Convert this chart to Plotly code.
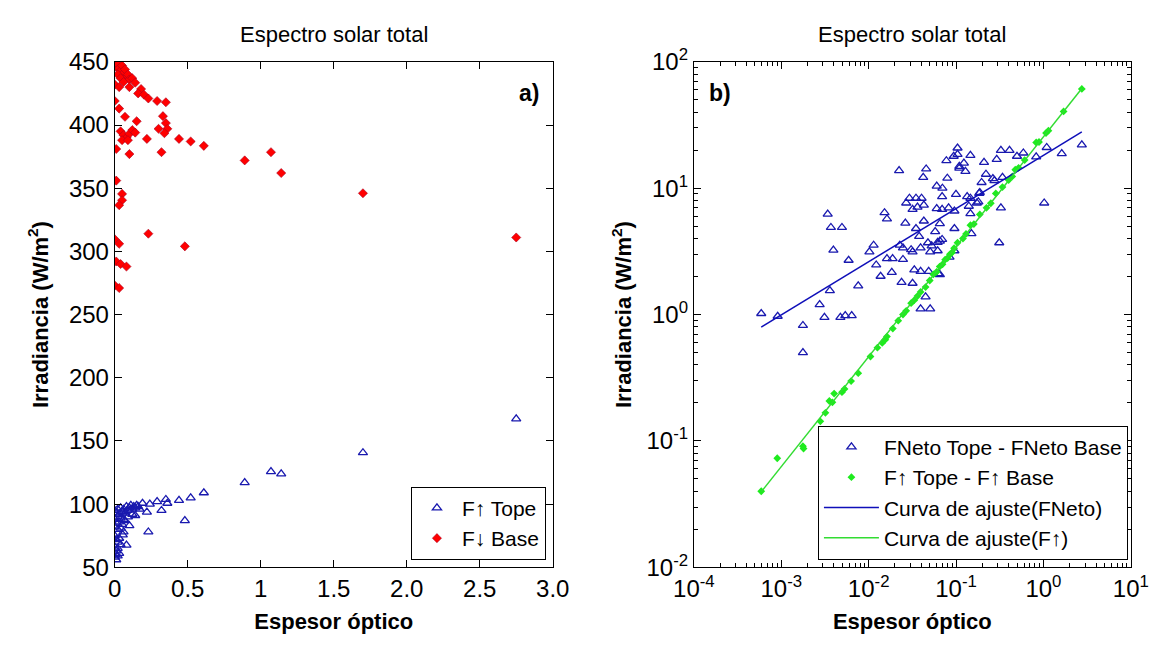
import numpy as np
import plotly.graph_objects as go

# ---------------- data: panel a) ----------------
tau_base = [0.0, 0.005, 0.01, 0.02, 0.03, 0.04, 0.05, 0.06, 0.07, 0.08, 0.09, 0.1, 0.12, 0.02, 0.04,
            0.06, 0.0, 0.03, 0.1, 0.14, 0.18, 0.16, 0.2, 0.23, 0.29, 0.35, 0.0, 0.03, 0.07, 0.33,
            0.15, 0.35, 0.3, 0.36, 0.34, 0.04, 0.06, 0.08, 0.1, 0.12, 0.14, 0.05, 0.09, 0.22, 0.44,
            0.52, 0.61, 0.01, 0.1, 0.32, 0.89, 1.07, 1.14, 0.01, 0.05, 0.05, 0.03, 1.70, 0.23, 0.0,
            0.03, 0.48, 2.75, 0.01, 0.04, 0.08, 0.0, 0.03]
f_down_base = [449, 447, 446, 448, 445, 443, 447, 441, 444, 438, 440, 436, 437, 440, 437,
               434, 432, 430, 430, 433.5, 428.5, 425, 424, 421, 419, 418, 419, 413, 406.5, 407,
               403, 401.5, 397, 397, 393.5, 395, 392, 390, 393, 396, 394, 388, 388, 389, 389,
               387, 383.5, 381, 377, 378.5, 372, 378.5, 362, 356, 345.5, 340.5, 336.6, 346, 314, 309.6,
               306, 304, 311, 292, 290, 288, 273, 271]

tau_tope = [2.75, 1.70, 1.07, 1.14, 0.89, 0.61, 0.52, 0.44, 0.48, 0.23, 0.35, 0.36, 0.29, 0.32,
            0.22, 0.24, 0.19, 0.1, 0.08, 0.055,
            0.0, 0.01, 0.02, 0.03, 0.04, 0.05, 0.06, 0.07, 0.08, 0.09, 0.1, 0.11, 0.12, 0.13, 0.14,
            0.15, 0.16, 0.17, 0.02, 0.04, 0.06, 0.0, 0.01, 0.03, 0.05, 0.07, 0.09, 0.12, 0.14, 0.0,
            0.02, 0.04, 0.06, 0.0, 0.01, 0.02, 0.03, 0.0, 0.01, 0.02, 0.03, 0.04, 0.0, 0.01, 0.02, 0.005]
f_up_tope = [167.5, 140.7, 125.7, 124, 117, 109, 105, 103, 87, 78, 103.7, 100.7, 102, 95,
             93.7, 100, 100.7, 83, 67.6, 75.7,
             95, 93, 96, 92, 97, 94, 96, 93, 98, 95, 97, 99, 96, 98, 97,
             99, 98, 96, 90, 89, 88, 88, 85, 86, 84, 87, 90, 92, 91, 82,
             80, 81, 78, 75, 72, 70, 73, 66, 63, 65, 61, 68, 58, 56, 59, 60]

# ---------------- data: panel b) ----------------
tau_neto = [0.104, 0.094, 0.104, 0.146, 0.0775, 0.123, 0.209, 0.0223, 0.0455, 0.0421, 0.109, 0.128,
            0.22, 0.0795, 0.196, 0.0601, 0.0698, 0.264, 0.0998, 0.0693, 0.134, 0.187, 0.0293, 0.0348,
            0.0403, 0.0269, 0.0318, 0.0362, 0.0428, 0.0601, 0.0822, 0.0693, 0.0958, 0.140, 0.173,
            0.0034, 0.0152, 0.0162, 0.146, 0.0037, 0.00495, 0.0263, 0.0428, 0.0653, 0.0348, 0.0577,
            0.0958, 0.150, 0.0378, 0.0653, 0.0616, 0.0114, 0.0227, 0.0247, 0.0477, 0.0526, 0.0393,
            0.0102, 0.00395, 0.0306, 0.0318, 0.0506, 0.0616, 0.0059, 0.0162, 0.0188, 0.0247, 0.0122,
            0.0333, 0.0393, 0.0486, 0.0626, 0.0137, 0.0184, 0.0076, 0.0238, 0.0318, 0.0036, 0.0448,
            0.00275, 0.0393, 0.0506, 0.00059, 0.00091, 0.00312, 0.00475, 0.0054, 0.0064, 0.00177,
            0.00177, 0.326, 0.409, 0.589, 0.292, 0.498, 0.109, 0.275, 0.340, 1.09, 1.62, 2.75, 0.826,
            0.146, 0.180, 0.184, 0.326, 1.02, 0.0693, 0.312, 0.0653, 0.0842, 0.0958]
df_neto = [20.8, 17.9, 18.5, 18.2, 16.5, 15.8, 16.0, 13.8, 14.2, 12.2, 14.4, 13.6,
           12.9, 12.0, 11.1, 10.4, 10.0, 11.9, 8.93, 8.59, 8.59, 9.25, 8.33, 8.33,
           8.33, 7.64, 6.8, 7.09, 7.35, 6.9, 7.0, 6.8, 6.6, 7.2, 7.64,
           6.23, 6.4, 5.71, 6.3, 4.89, 4.89, 5.3, 5.5, 5.24, 4.8, 4.54,
           4.8, 4.37, 4.16, 3.81, 3.73, 3.54, 3.54, 3.37, 3.7, 3.5, 3.37,
           3.14, 3.24, 3.26, 3.14, 3.14, 3.2, 2.69, 2.77, 2.77, 2.73, 2.47,
           2.26, 2.2, 2.2, 2.11, 2.01, 2.16, 1.69, 1.8, 1.77, 1.55, 1.38,
           1.2, 1.11, 1.11, 1.02, 0.97, 0.95, 0.95, 0.98, 0.98, 0.82,
           0.5, 19.9, 19.9, 19.0, 16.9, 17.9, 14.9, 11.5, 12.2, 21.0, 18.8, 22.0, 17.7,
           8.33, 7.8, 9.1, 7.0, 7.64, 3.93, 3.7, 2.07, 2.85, 3.2]

tau_up = [0.00059, 0.0009, 0.00177, 0.0018, 0.0028, 0.0032, 0.00355, 0.00385, 0.00403, 0.00495,
          0.0053, 0.0063, 0.0076, 0.0105, 0.0126, 0.0143, 0.0155, 0.0162, 0.0189, 0.0218, 0.0247,
          0.0269, 0.0306, 0.0333, 0.0362, 0.0393, 0.0448, 0.05, 0.055, 0.06, 0.065, 0.07, 0.075,
          0.08, 0.085, 0.09, 0.095, 0.104, 0.12, 0.13, 0.146, 0.16, 0.187, 0.223, 0.25, 0.285,
          0.34, 0.4, 0.44, 0.476, 0.52, 0.61, 0.826, 0.89, 1.07, 1.14, 1.7, 2.75]
df_up = [0.040, 0.073, 0.091, 0.087, 0.143, 0.167, 0.207, 0.202, 0.237, 0.243,
         0.258, 0.298, 0.344, 0.466, 0.547, 0.597, 0.633, 0.67, 0.775, 0.895, 1.0,
         1.07, 1.23, 1.3, 1.4, 1.51, 1.65, 1.86, 2.08, 2.18, 2.4, 2.5, 2.72,
         2.8, 3.0, 3.1, 3.35, 3.7, 4.0, 4.35, 5.1, 5.2, 6.2, 7.0, 7.6, 9.1,
         10.2, 11.6, 12.4, 14.0, 14.5, 16.7, 23.0, 23.2, 27.3, 28.5, 40.5, 61.0]

# power-law fit parameters: y = coef * tau ** expo
fit_neto = {"coef": 18.2, "expo": 0.421}
fit_up = {"coef": 25.5, "expo": 0.87}

x_ticks_a = [0, 0.5, 1, 1.5, 2, 2.5, 3]
x_ticktext_a = ["0", "0.5", "1", "1.5", "2.0", "2.5", "3.0"]
y_ticks_a = [50, 100, 150, 200, 250, 300, 350, 400, 450]
x_exp_b = [-4, -3, -2, -1, 0, 1]
y_exp_b = [-2, -1, 0, 1, 2]

# ---------------- figure ----------------
FONT = "Liberation Sans, Arial, sans-serif"
W, H = 1173, 649
BLUE = "rgb(25,25,175)"
RED = "rgb(255,0,0)"
GREEN = "rgb(30,235,30)"

fig = go.Figure()

fig.add_trace(go.Scatter(x=tau_tope, y=f_up_tope, mode="markers", name="F\u2191 Tope",
                         marker=dict(symbol="triangle-up-open", size=8, color=BLUE, line=dict(width=1.3)),
                         xaxis="x", yaxis="y", legend="legend"))
fig.add_trace(go.Scatter(x=tau_base, y=f_down_base, mode="markers", name="F\u2193 Base",
                         marker=dict(symbol="diamond", size=7, color=RED, line=dict(width=0.6, color="rgb(170,0,30)")),
                         xaxis="x", yaxis="y", legend="legend"))

t_all = np.array(tau_neto + tau_up)
t_line = np.logspace(np.log10(t_all.min()), np.log10(t_all.max()), 60)

fig.add_trace(go.Scatter(x=tau_neto, y=df_neto, mode="markers", name="FNeto Tope - FNeto Base",
                         marker=dict(symbol="triangle-up-open", size=8, color=BLUE, line=dict(width=1.3)),
                         xaxis="x2", yaxis="y2", legend="legend2"))
fig.add_trace(go.Scatter(x=tau_up, y=df_up, mode="markers", name="F\u2191 Tope - F\u2191 Base",
                         marker=dict(symbol="diamond", size=6, color=GREEN),
                         xaxis="x2", yaxis="y2", legend="legend2"))
fig.add_trace(go.Scatter(x=t_line, y=fit_neto["coef"] * t_line ** fit_neto["expo"], mode="lines",
                         name="Curva de ajuste(FNeto)", line=dict(color="rgb(15,15,185)", width=1.5),
                         xaxis="x2", yaxis="y2", legend="legend2"))
fig.add_trace(go.Scatter(x=t_line, y=fit_up["coef"] * t_line ** fit_up["expo"], mode="lines",
                         name="Curva de ajuste(F\u2191)", line=dict(color="rgb(50,220,50)", width=1.5),
                         xaxis="x2", yaxis="y2", legend="legend2"))

ax_common = dict(showline=True, linecolor="black", linewidth=1, mirror="ticks", ticks="inside",
                 ticklen=7, tickcolor="black", showgrid=False, zeroline=False,
                 tickfont=dict(family=FONT, size=24, color="black"))

minor_x = [m * 10.0 ** k for k in range(-4, 1) for m in range(2, 10)]
minor_y = [m * 10.0 ** k for k in range(-2, 2) for m in range(2, 10)]

bx0, bx1 = 97 / W, 550 / W
rx0, rx1 = 696 / W, 1148 / W
by0, by1 = 1 - 577 / H, 1 - 47 / H

TITLE_FONT = dict(family=FONT, size=22, color="black")

fig.update_layout(
    width=W, height=H, margin=dict(l=0, r=0, t=0, b=0),
    paper_bgcolor="white", plot_bgcolor="white",
    font=dict(family=FONT, size=21, color="black"),
    xaxis=dict(domain=[bx0, bx1], anchor="y", range=[0, 3], tickvals=x_ticks_a, ticktext=x_ticktext_a,
               title=dict(text="<b>Espesor óptico</b>", font=TITLE_FONT, standoff=12), **ax_common),
    yaxis=dict(domain=[by0, by1], anchor="x", range=[50, 450], tickvals=y_ticks_a,
               title=dict(text="<b>Irradiancia (W/m<sup>2</sup>)</b>", font=TITLE_FONT, standoff=14), **ax_common),
    xaxis2=dict(domain=[rx0, rx1], anchor="y2", type="log", range=[-4, 1],
                tickvals=[10.0 ** e for e in x_exp_b], ticktext=[f"10<sup>{e}</sup>" for e in x_exp_b],
                minor=dict(tickvals=minor_x, ticks="inside", ticklen=4, tickcolor="black", showgrid=False),
                title=dict(text="<b>Espesor óptico</b>", font=TITLE_FONT, standoff=12), **ax_common),
    yaxis2=dict(domain=[by0, by1], anchor="x2", type="log", range=[-2, 2],
                tickvals=[10.0 ** e for e in y_exp_b], ticktext=[f"10<sup>{e}</sup>" for e in y_exp_b],
                minor=dict(tickvals=minor_y, ticks="inside", ticklen=4, tickcolor="black", showgrid=False),
                title=dict(text="<b>Irradiancia (W/m<sup>2</sup>)</b>", font=TITLE_FONT, standoff=8), **ax_common),
    legend=dict(x=543 / W, y=1 - 569 / H, xanchor="right", yanchor="bottom", bgcolor="white",
                bordercolor="black", borderwidth=1, font=dict(size=21), tracegroupgap=0, itemwidth=40),
    legend2=dict(x=1145 / W, y=1 - 569 / H, xanchor="right", yanchor="bottom", bgcolor="white",
                 bordercolor="black", borderwidth=1, font=dict(size=21), tracegroupgap=0, itemwidth=55),
    annotations=[
        dict(text="Espectro solar total", x=(bx0 + bx1) / 2, y=1 - 18 / H, xref="paper", yref="paper",
             showarrow=False, font=TITLE_FONT, xanchor="center", yanchor="middle"),
        dict(text="Espectro solar total", x=(rx0 + rx1) / 2, y=1 - 18 / H, xref="paper", yref="paper",
             showarrow=False, font=TITLE_FONT, xanchor="center", yanchor="middle"),
        dict(text="<b>a)</b>", x=538 / W, y=1 - 80 / H, xref="paper", yref="paper", showarrow=False,
             font=dict(family=FONT, size=23, color="black"), xanchor="right", yanchor="middle"),
        dict(text="<b>b)</b>", x=710 / W, y=1 - 80 / H, xref="paper", yref="paper", showarrow=False,
             font=dict(family=FONT, size=23, color="black"), xanchor="left", yanchor="middle"),
    ],
)

fig.write_html("out.html")
